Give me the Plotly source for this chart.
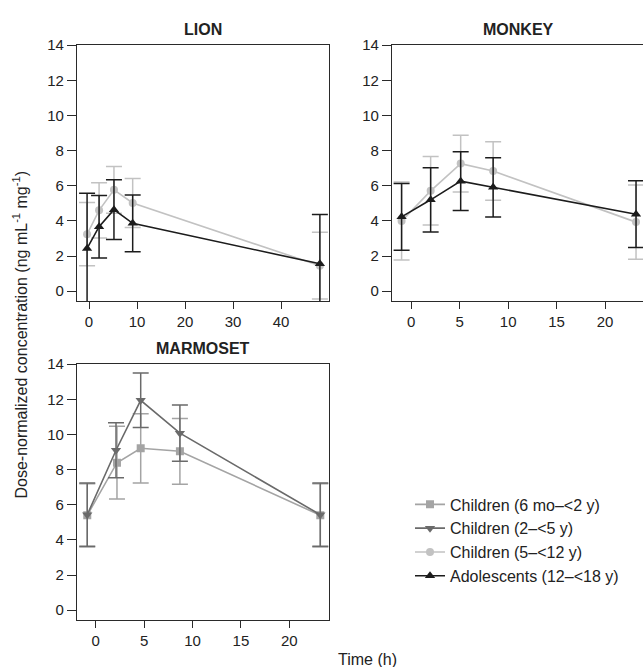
import plotly.graph_objects as go

W, H = 643, 667

# ---------------- data ----------------
series_names = ["Children (6 mo–<2 y)", "Children (2–<5 y)",
                "Children (5–<12 y)", "Adolescents (12–<18 y)"]

# LION
lion_t_c512 = [-0.4, 2.1, 5.2, 9.1, 48.1]
lion_y_c512 = [3.24, 4.60, 5.77, 5.02, 1.45]
lion_e_c512 = [1.80, 1.57, 1.33, 1.40, 1.90]
lion_t_ado = [-0.4, 2.1, 5.2, 9.1, 48.1]
lion_y_ado = [2.43, 3.67, 4.64, 3.86, 1.56]
lion_e_ado = [3.15, 1.78, 1.70, 1.62, 2.80]

# MONKEY
monkey_t_c512 = [-1.0, 2.0, 5.1, 8.45, 23.2]
monkey_y_c512 = [3.99, 5.71, 7.26, 6.84, 3.93]
monkey_e_c512 = [2.22, 1.95, 1.62, 1.67, 2.12]
monkey_t_ado = [-1.0, 2.0, 5.1, 8.45, 23.2]
monkey_y_ado = [4.23, 5.20, 6.26, 5.91, 4.38]
monkey_e_ado = [1.90, 1.83, 1.67, 1.69, 1.90]

# MARMOSET
marm_t_c6m = [-0.87, 2.2, 4.65, 8.7, 23.2]
marm_y_c6m = [5.40, 8.39, 9.21, 9.04, 5.40]
marm_e_c6m = [1.80, 2.07, 1.97, 1.87, 1.80]
marm_t_c25 = [-0.87, 2.1, 4.65, 8.7, 23.2]
marm_y_c25 = [5.43, 9.10, 11.94, 10.07, 5.43]
marm_e_c25 = [1.80, 1.56, 1.55, 1.60, 1.80]

y_ticks = [0, 2, 4, 6, 8, 10, 12, 14]
lion_x_ticks = [0, 10, 20, 30, 40]
short_x_ticks = [0, 5, 10, 15, 20]

colors = ["#a4a4a4", "#6a6a6a", "#c2c2c2", "#1c1c1c"]
symbols = ["square", "triangle-down", "circle", "triangle-up"]
msize = [8, 9, 8, 9]

FONT = "Arial, Liberation Sans, sans-serif"
TXT = "#222222"

fig = go.Figure()


def add_series(idx, t, y, e, xa, ya, show):
    fig.add_trace(go.Scatter(
        x=t, y=y, mode="lines+markers", name=series_names[idx],
        legendgroup=series_names[idx], showlegend=show, legendrank=idx + 1,
        line=dict(color=colors[idx], width=1.6),
        marker=dict(symbol=symbols[idx], size=msize[idx], color=colors[idx]),
        error_y=dict(type="data", array=e, symmetric=True, color=colors[idx],
                     thickness=1.5, width=8),
        xaxis=xa, yaxis=ya))


# LION (x, y)
add_series(2, lion_t_c512, lion_y_c512, lion_e_c512, "x", "y", True)
add_series(3, lion_t_ado, lion_y_ado, lion_e_ado, "x", "y", True)
# MONKEY (x2, y2)
add_series(2, monkey_t_c512, monkey_y_c512, monkey_e_c512, "x2", "y2", False)
add_series(3, monkey_t_ado, monkey_y_ado, monkey_e_ado, "x2", "y2", False)
# MARMOSET (x3, y3)
add_series(0, marm_t_c6m, marm_y_c6m, marm_e_c6m, "x3", "y3", True)
add_series(1, marm_t_c25, marm_y_c25, marm_e_c25, "x3", "y3", True)


def px(xp):
    return xp / W


def py(yp):
    return 1 - yp / H


axis_common = dict(showline=True, linecolor="#2a2a2a", linewidth=1.3,
                   showgrid=False, zeroline=False, ticks="outside",
                   tickcolor="#2a2a2a", tickwidth=1.2,
                   tickfont=dict(family=FONT, size=15, color=TXT))

fig.update_layout(
    width=W, height=H, margin=dict(l=0, r=0, t=0, b=0),
    paper_bgcolor="white", plot_bgcolor="white",
    showlegend=True,
    legend=dict(x=px(410), y=py(485), xanchor="left", yanchor="top",
                font=dict(family=FONT, size=16, color=TXT),
                bgcolor="rgba(0,0,0,0)", traceorder="normal"),
    # LION
    xaxis=dict(domain=[px(77), px(329)], range=[-2.5, 50], tickvals=lion_x_ticks,
               ticklen=7, mirror=True, anchor="y", **axis_common),
    yaxis=dict(domain=[py(296), py(36)], range=[-0.56, 14.04], tickvals=y_ticks,
               ticklen=9, mirror=True, anchor="x", **axis_common),
    # MONKEY
    xaxis2=dict(domain=[px(392), 1.0], range=[-1.99, 23.92], tickvals=short_x_ticks,
                ticklen=7, mirror=True, anchor="y2", **axis_common),
    yaxis2=dict(domain=[py(296), py(36)], range=[-0.56, 14.04], tickvals=y_ticks,
                ticklen=9, mirror=False, anchor="x2", **axis_common),
    # MARMOSET
    xaxis3=dict(domain=[px(77), px(329)], range=[-1.93, 24.1], tickvals=short_x_ticks,
                ticklen=7, mirror=True, anchor="y3", **axis_common),
    yaxis3=dict(domain=[py(619), py(360)], range=[-0.54, 14.0], tickvals=y_ticks,
                ticklen=9, mirror=True, anchor="x3", **axis_common),
)

titles = [("LION", 203, 21), ("MONKEY", 518, 21), ("MARMOSET", 203, 344)]
for txt, xx, yy in titles:
    fig.add_annotation(x=px(xx), y=py(yy), xref="paper", yref="paper",
                       text="<b>%s</b>" % txt, showarrow=False,
                       xanchor="center", yanchor="middle",
                       font=dict(family=FONT, size=16, color=TXT))

fig.add_annotation(x=px(367), y=py(659), xref="paper", yref="paper",
                   text="Time (h)", showarrow=False, xanchor="center", yanchor="middle",
                   font=dict(family=FONT, size=16, color=TXT))
fig.add_annotation(x=px(20), y=py(330), xref="paper", yref="paper",
                   text="Dose-normalized concentration (ng mL<sup>-1</sup> mg<sup>-1</sup>)",
                   showarrow=False, textangle=-90, xanchor="center", yanchor="middle",
                   font=dict(family=FONT, size=16, color=TXT))

fig.write_html("out.html",
               config={"displayModeBar": False},
               post_script="document.body.style.margin='0px';"
                           "document.body.style.overflow='hidden';")
